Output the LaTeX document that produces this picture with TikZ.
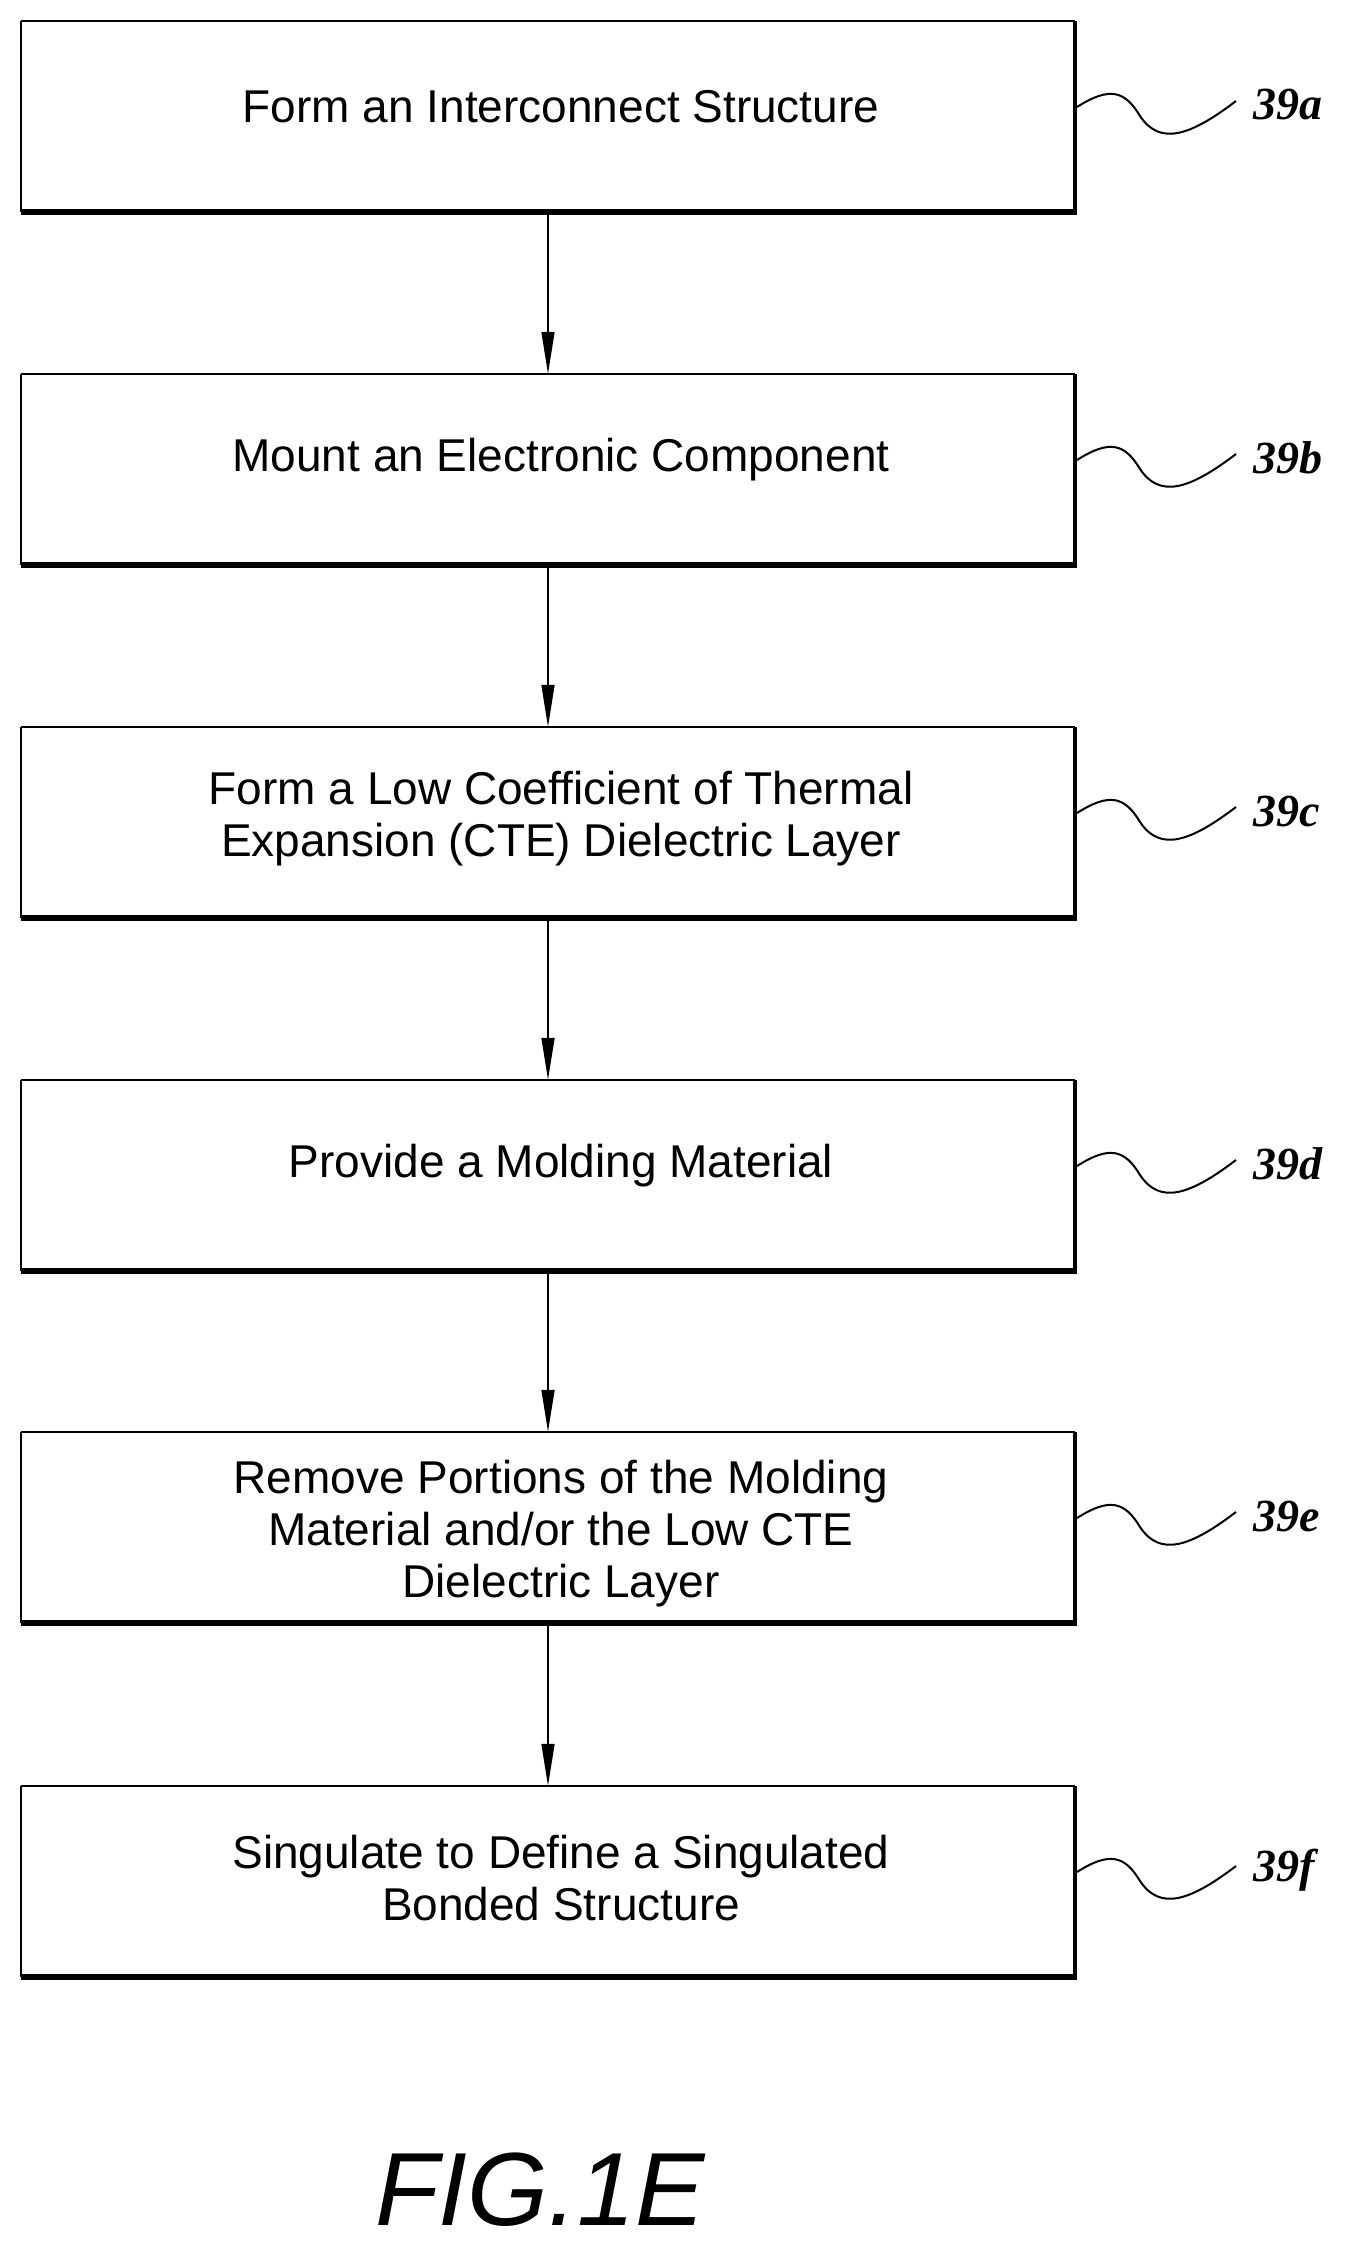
\documentclass[tikz,border=0pt]{standalone}
\usepackage{fontspec}
\setmainfont{Liberation Sans}
\newfontfamily\lblfont{Liberation Serif}
\usetikzlibrary{arrows.meta}
\begin{document}
\begin{tikzpicture}[x=1pt,y=-1pt,
  box/.style={draw=none,minimum width=1054pt,minimum height=191pt,align=center,font=\fontsize{46}{52}\selectfont,inner sep=0},
  arr/.style={line width=1.6pt,-{Triangle[length=42pt,width=13pt]}},
  lbl/.style={font=\lblfont\bfseries\itshape\fontsize{46}{46}\selectfont,anchor=west}]
\useasboundingbox (0,0) rectangle (1355,2248);
\foreach \i/\t/\o/\txt in {a/21/0/{Form an Interconnect Structure},b/374/0/{Mount an Electronic Component},c/727/6/{Form a Low Coefficient of Thermal\\Expansion (CTE) Dielectric Layer},d/1080/0/{Provide a Molding Material},e/1432/16/{Remove Portions of the Molding\\Material and/or the Low CTE\\Dielectric Layer},f/1786/6/{Singulate to Define a Singulated\\Bonded Structure}}{
  \node[box] (\i) at (548,\t+95.5) {};
  \node[font=\fontsize{46}{52}\selectfont,align=center] (t\i) at (561,\t+86+\o) {\txt};
  \draw[line width=2pt] (21,\t) -- (1075,\t);
  \draw[line width=2pt] (21,\t) -- (21,\t+191);
  \draw[line width=4pt] (1075,\t) -- (1075,\t+191);
  \draw[line width=6pt] (21,\t+191) -- (1077,\t+191);
  \coordinate (s\i) at (1077,\t+86);
  \draw[line width=2pt] (s\i) .. controls (1110,\t+65) and (1125,\t+70) .. (1140,\t+95) .. controls (1160,\t+125) and (1190,\t+115) .. (1236,\t+80);
  \node[lbl] (l\i) at (1250,\t+84) {39\i};
}
\draw[arr] (a.south) -- (b.north);
\draw[arr] (b.south) -- (c.north);
\draw[arr] (c.south) -- (d.north);
\draw[arr] (d.south) -- (e.north);
\draw[arr] (e.south) -- (f.north);
\node[font=\itshape\fontsize{104}{104}\selectfont] (fig) at (540,2190) {FIG.1E};
\end{tikzpicture}
\end{document}
